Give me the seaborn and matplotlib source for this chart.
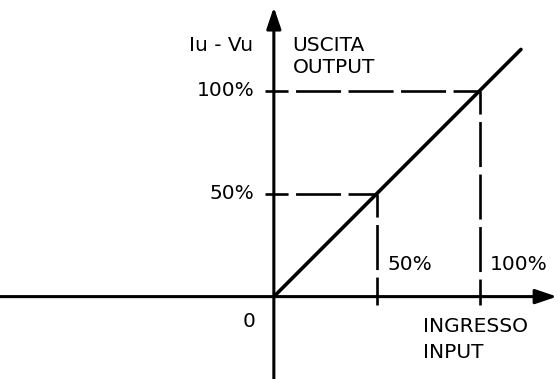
import matplotlib
matplotlib.use('Agg')
import matplotlib.pyplot as plt
import seaborn as sns

# transfer characteristic: output follows input linearly
input_pct = [0, 50, 100, 120]
output_pct = [0, 50, 100, 120]

# reference levels marked with dashed guides
guide_levels = [50, 100]
guide_labels = ['50%', '100%']

sns.set_style('white')
plt.rcParams['font.family'] = ['DejaVu Sans']
plt.rcParams['text.color'] = 'black'
plt.rcParams['lines.scale_dashes'] = False

fig = plt.figure(figsize=(5.58, 3.79), dpi=100)
ax = fig.add_axes([0, 0, 1, 1])
ax.set_xlim(-133, 138)
ax.set_ylim(-40, 144)
ax.axis('off')

# axes with arrow heads
arrow = dict(arrowstyle='-|>,head_length=0.65,head_width=0.22', lw=2.2,
             color='black', mutation_scale=20, shrinkA=0, shrinkB=0)
ax.annotate('', xy=(137.5, 0), xytext=(-133, 0), arrowprops=arrow)
ax.annotate('', xy=(0, 140.5), xytext=(0, -40), arrowprops=arrow)

# dashed guides
dash = (15.8, (32.4, 5.4))
for lvl in guide_levels:
    ax.plot([-4.4, lvl], [lvl, lvl], color='black', lw=1.9, linestyle=dash,
            dash_capstyle='butt')
    ax.plot([lvl, lvl], [lvl, -4.2], color='black', lw=1.9, linestyle=dash,
            dash_capstyle='butt')

sns.lineplot(x=input_pct, y=output_pct, color='black', linewidth=2.6, ax=ax)

fs = 14.5
for lvl, lab in zip(guide_levels, guide_labels):
    ax.text(-9.5, lvl, lab, ha='right', va='center', fontsize=fs)
    ax.text(lvl + 5, 15.5, lab, ha='left', va='center', fontsize=fs)
ax.text(-9, -12.3, '0', ha='right', va='center', fontsize=fs)

ax.text(-10, 121.7, 'Iu - Vu', ha='right', va='center', fontsize=fs)
ax.text(9, 121.7, 'USCITA', ha='left', va='center', fontsize=fs)
ax.text(9, 111.2, 'OUTPUT', ha='left', va='center', fontsize=fs)
ax.text(72.3, -14.3, 'INGRESSO', ha='left', va='center', fontsize=fs)
ax.text(72.3, -27.2, 'INPUT', ha='left', va='center', fontsize=fs)

plt.savefig('out.png', dpi=100)
